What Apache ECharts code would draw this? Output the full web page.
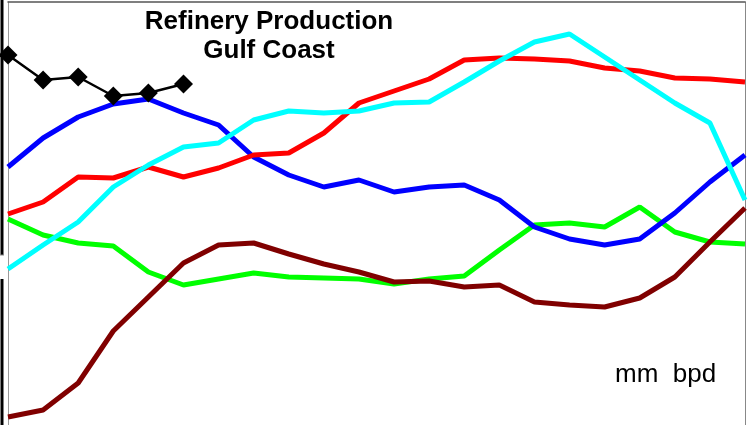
<!DOCTYPE html>
<html>
<head>
<meta charset="utf-8">
<title>Refinery Production Gulf Coast</title>
<script src="https://cdn.jsdelivr.net/npm/echarts@6/dist/echarts.min.js"></script>
<style>
  html, body { margin: 0; padding: 0; background: #fff; }
  #main { width: 755px; height: 425px; }
</style>
</head>
<body>
<div id="main"></div>
<script>
// periods along the x axis (labels not shown in the picture)
var periods = ['1','2','3','4','5','6','7','8','9','10','11','12','13','14','15','16','17','18','19','20','21','22'];

// values (arbitrary units, axis hidden)
var blueData   = [261,290,311,324,329,315,303,271,253,241,248,236,241,243,228,201,189,183,189,215,246,273];
var redData    = [214,226,251,250,261,251,260,273,275,295,325,337,349,368,370,369,367,360,357,350,349,346];
var cyanData   = [159,183,206,241,263,281,285,308,317,315,317,325,326,346,367,386,394,371,348,325,305,228];
var greenData  = [209,193,185,182,156,143,149,155,151,150,149,144,149,152,178,203,205,201,221,196,186,184];
var maroonData = [11,18,45,97,131,165,183,185,174,164,156,146,147,141,143,126,123,121,130,151,186,220];
var blackData  = [373,348,351,332,335,344];

var myChart = echarts.init(document.getElementById('main'));

function lineSeries(name, color, data) {
    return {
        name: name,
        type: 'line',
        symbol: 'none',
        data: data,
        lineStyle: { color: color, width: 5 },
        itemStyle: { color: color }
    };
}

function frameAxis(pos, color) {
    return {
        type: 'value',
        position: pos,
        min: 3,
        max: 426,
        axisLine: { show: true, lineStyle: { color: color, width: 1 } },
        axisTick: { show: false },
        axisLabel: { show: false },
        splitLine: { show: false }
    };
}

var option = {
    animation: false,
    backgroundColor: '#fff',
    grid: {
        left: 8,
        right: 10,
        top: 2,
        bottom: 0
    },
    xAxis: {
        type: 'category',
        position: 'top',
        boundaryGap: false,
        data: periods,
        axisLine: { show: true, lineStyle: { color: '#555', width: 1.5 } },
        axisTick: { show: false },
        axisLabel: { show: false }
    },
    yAxis: [frameAxis('left', '#999'), frameAxis('right', '#888')],
    graphic: [
        {
            type: 'text',
            x: 269,
            y: 7,
            style: {
                text: 'Refinery Production\nGulf Coast',
                textAlign: 'center',
                fill: '#000',
                font: 'bold 26px "Liberation Sans", Arial, sans-serif',
                lineHeight: 29
            }
        },
        {
            type: 'text',
            x: 615,
            y: 362,
            style: {
                text: 'mm  bpd',
                fill: '#000',
                font: '26px "Liberation Sans", Arial, sans-serif'
            }
        },
        {
            type: 'line',
            shape: { x1: 2, y1: 0, x2: 2, y2: 255 },
            style: { stroke: '#000', lineWidth: 3 }
        },
        {
            type: 'line',
            shape: { x1: 0, y1: 255, x2: 4, y2: 255 },
            style: { stroke: '#888', lineWidth: 1 }
        },
        {
            type: 'line',
            shape: { x1: 2, y1: 279, x2: 2, y2: 425 },
            style: { stroke: '#000', lineWidth: 3 }
        }
    ],
    series: [
        lineSeries('green', '#00ff00', greenData),
        lineSeries('maroon', '#800000', maroonData),
        lineSeries('blue', '#0000ff', blueData),
        lineSeries('red', '#ff0000', redData),
        lineSeries('cyan', '#00ffff', cyanData),
        {
            name: 'black',
            type: 'line',
            data: blackData,
            symbol: 'diamond',
            symbolSize: 19,
            lineStyle: { color: '#000', width: 2.5 },
            itemStyle: { color: '#000' }
        }
    ]
};

myChart.setOption(option);
</script>
</body>
</html>
